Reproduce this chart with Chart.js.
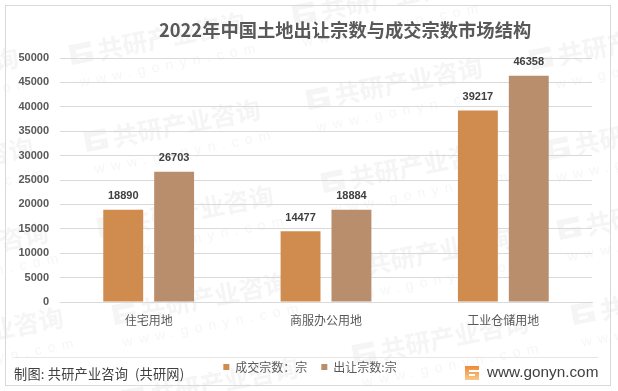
<!DOCTYPE html>
<html>
<head>
<meta charset="utf-8">
<script src="https://cdn.jsdelivr.net/npm/chart.js@4"></script>
<style>
html, body { margin: 0; padding: 0; background: #fff; }
#wrap { width: 618px; height: 391px; position: relative; }
</style>
</head>
<body>
<div id="wrap"><canvas id="landChart" width="618" height="391"></canvas></div>
<script>
const categories = ['住宅用地', '商服办公用地', '工业仓储用地'];
const dealCount = [18890, 14477, 39217];
const offerCount = [26703, 18884, 46358];
const seriesNames = ['成交宗数：宗', '出让宗数:宗'];
const titleText = '2022年中国土地出让宗数与成交宗数市场结构';
const sourceText = '制图: 共研产业咨询\u2002(共研网)';
const siteText = 'www.gonyn.com';
const markName = '共研产业咨询';
const markSite = 'www.gonyn.com';

const cjk = '"Noto Sans CJK SC", "Liberation Sans", sans-serif';

// watermark anchors
const marks = [
  [-155,99],[-140,189],[-125,274],[-110,359],
  [72,64],[87,151],[100,237],[115,324],[125,409],
  [295,24],[309,109],[324,192],[340,279],[355,364],
  [532,69],[549,159],[560,239],[574,324]
];

const backdrop = {
  id: 'backdrop',
  afterLayout(chart) {
    // legend sits centred on the page, not on the padded box
    chart.legend.left += 14;
    chart.legend.right += 14;
  },
  beforeDraw(chart) {
    const c = chart.ctx;
    c.save();
    c.fillStyle = '#fff';
    c.fillRect(0, 0, 618, 391);
    marks.forEach(function(m) {
      c.save();
      c.translate(m[0], m[1]);
      c.rotate(-11 * Math.PI / 180);
      c.fillStyle = '#f5f5f5';
      c.fillRect(0, -19, 22, 20);
      c.fillStyle = '#fff';
      c.fillRect(6, -13, 16, 4);
      c.fillRect(6, -6, 9, 3);
      c.fillStyle = '#f5f5f5';
      c.font = 'bold 25px ' + cjk;
      c.textBaseline = 'alphabetic';
      c.fillText(markName, 28, 1);
      c.fillStyle = '#f6f6f6';
      c.font = '14px "Liberation Sans"';
      c.letterSpacing = '6.4px';
      c.fillText(markSite, 4, 24);
      c.restore();
    });
    c.strokeStyle = '#d9d9d9';
    c.lineWidth = 1;
    c.strokeRect(5.5, 5.5, 605, 380);
    c.strokeStyle = '#e6e6e6';
    c.beginPath();
    c.moveTo(14, 357.5);
    c.lineTo(598, 357.5);
    c.stroke();
    c.restore();
  },
  afterDraw(chart) {
    const c = chart.ctx;
    c.save();
    c.textBaseline = 'middle';
    c.textAlign = 'left';
    c.fillStyle = '#595959';
    c.font = 'bold 18.3px ' + cjk;
    c.fillText(titleText, 159, 30);
    c.fillStyle = '#404040';
    c.font = '13.2px ' + cjk;
    c.letterSpacing = '0.2px';
    c.fillText(sourceText, 14, 374);
    c.letterSpacing = '0px';
    c.font = '15.3px "Liberation Sans"';
    c.fillText(siteText, 487, 372.5);
    // logo
    const g = c.createLinearGradient(465, 366, 465, 380);
    g.addColorStop(0, '#ee8a3a');
    g.addColorStop(1, '#f8c98a');
    c.fillStyle = g;
    c.fillRect(465, 366, 14, 14);
    c.fillStyle = '#fff';
    c.fillRect(469, 370, 10, 2);
    c.fillRect(469, 374, 6, 2);
    // value labels above the bars
    c.fillStyle = '#404040';
    c.font = 'bold 11px "Liberation Sans"';
    c.textAlign = 'center';
    chart.data.datasets.forEach(function(ds, i) {
      chart.getDatasetMeta(i).data.forEach(function(bar, j) {
        c.fillText(ds.data[j], bar.x, bar.y - 13.5);
      });
    });
    c.restore();
  }
};

new Chart(document.getElementById('landChart'), {
  type: 'bar',
  data: {
    labels: categories,
    datasets: [
      { label: seriesNames[0], data: dealCount, backgroundColor: '#d08c4f', barPercentage: 0.784, categoryPercentage: 0.574 },
      { label: seriesNames[1], data: offerCount, backgroundColor: '#b98e6d', barPercentage: 0.784, categoryPercentage: 0.574 }
    ]
  },
  plugins: [backdrop],
  options: {
    responsive: false,
    animation: false,
    layout: { padding: { top: 58, left: 0, right: 26, bottom: 8 } },
    plugins: {
      tooltip: { enabled: false },
      title: { display: false },
      legend: {
        position: 'bottom',
        labels: {
          boxWidth: 6,
          boxHeight: 6,
          padding: 14,
          color: '#595959',
          font: { size: 12, family: cjk }
        }
      }
    },
    scales: {
      x: {
        grid: { display: false },
        border: { color: '#d9d9d9' },
        ticks: { color: '#595959', font: { size: 12, family: cjk }, padding: 3 },
        afterFit(scale) { scale.height = 45; }
      },
      y: {
        min: 0,
        max: 50000,
        grid: { color: '#d9d9d9', drawTicks: false },
        border: { display: false },
        ticks: {
          stepSize: 5000,
          color: '#595959',
          padding: 11,
          font: { size: 11, weight: 'bold', family: '"Liberation Sans"' },
          callback: function(v) { return String(v); }
        },
        afterFit(scale) { scale.width = 60; }
      }
    }
  }
});
</script>
</body>
</html>
